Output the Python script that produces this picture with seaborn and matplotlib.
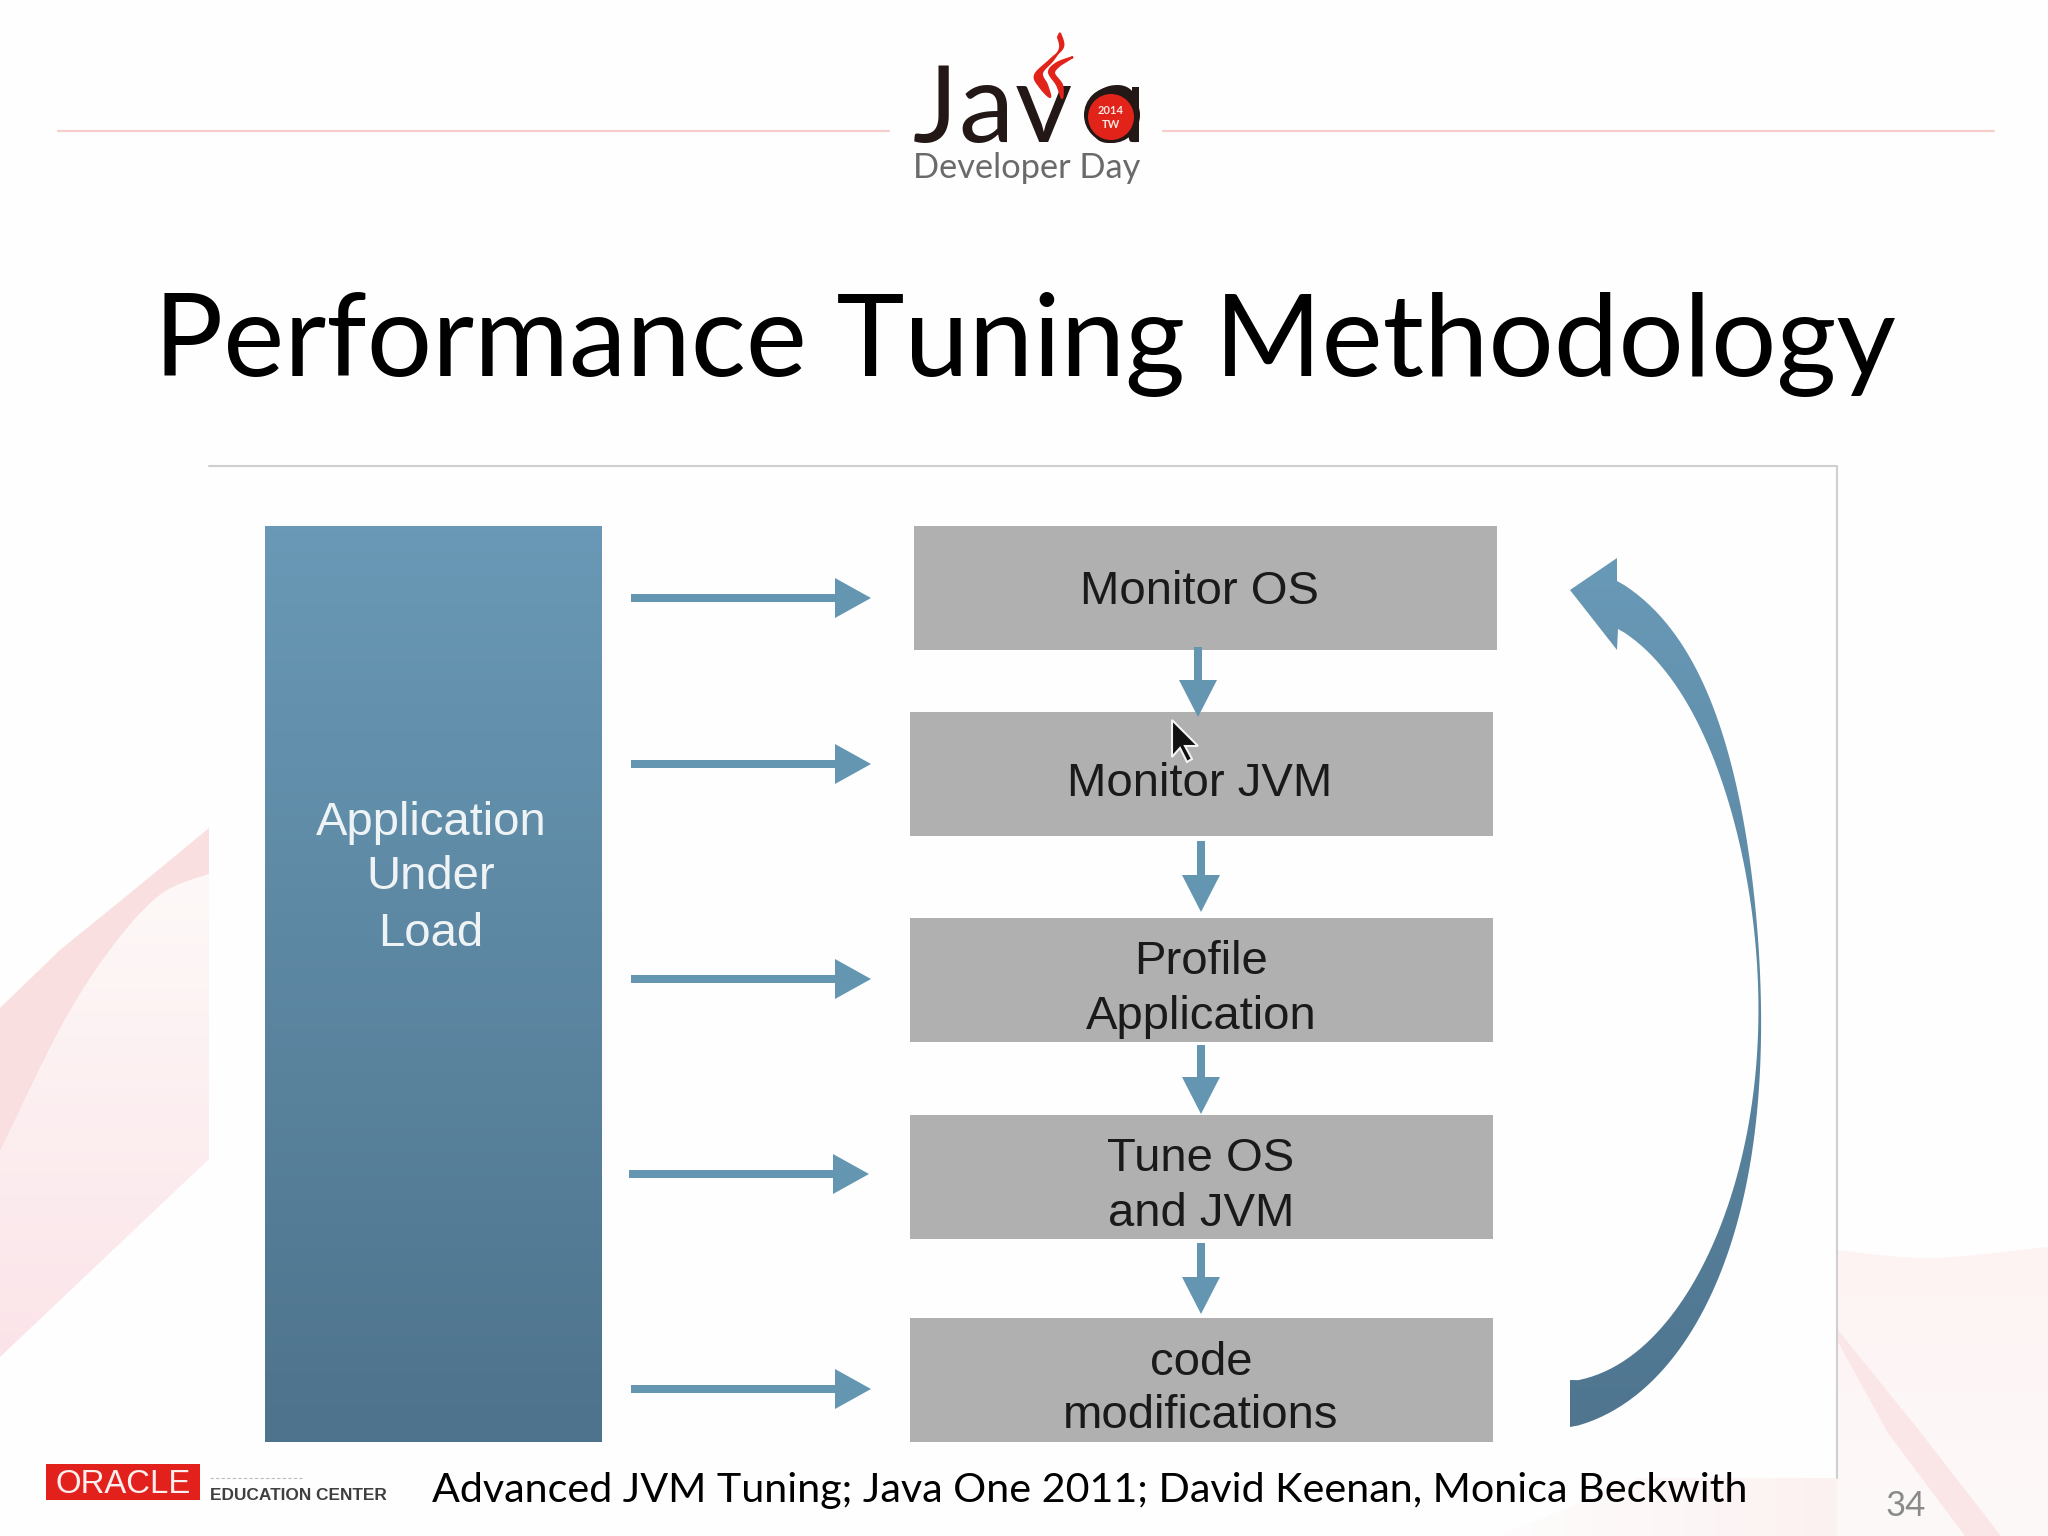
import numpy as np
import pandas as pd
import matplotlib
matplotlib.use("Agg")
import matplotlib.pyplot as plt
import seaborn as sns
from matplotlib.colors import LinearSegmentedColormap
from matplotlib.patches import Polygon, Rectangle, Circle

# slide text
TITLE = "Performance Tuning Methodology"
FOOTER = "Advanced JVM Tuning; Java One 2011; David Keenan, Monica Beckwith"
PAGE = "34"
LEFT_LABELS = ["Application", "Under", "Load"]
STEP_LABELS = [["Monitor OS"], ["Monitor JVM"], ["Profile", "Application"],
               ["Tune OS", "and JVM"], ["code", "modifications"]]

# layout, all in pixels of the 2048x1536 slide
STEP_LEFT = [914, 910, 910, 910, 910]
STEP_TOP = [526, 712, 918, 1115, 1318]
STEP_W = 583
STEP_H = 124
STEP_TEXT_Y = [[604], [796], [974, 1029], [1171, 1226], [1375, 1428]]
STEP_TEXT_X = [1199, 1200, 1201, 1201, 1201]
SIDE_ARROW_Y = [598, 764, 979, 1174, 1389]
SIDE_ARROW_X0 = [631, 631, 631, 629, 631]
DOWN_ARROW_X = [1198, 1201, 1201, 1201]
DOWN_ARROW_Y0 = [647, 841, 1045, 1243]
DOWN_ARROW_Y1 = [717, 912, 1114, 1314]

BLUE = "#6496b2"
GREY_BOX = "#b1b0b1"
PINK = "#fadfe0"
LOGO_DARK = "#231815"
LOGO_RED = "#e2231a"

BIG_OUTER = [(1617, 581), (1675, 632), (1717, 725), (1745, 818), (1760, 977),
             (1760, 1016), (1752, 1162), (1724, 1261), (1675, 1354), (1622, 1407), (1570, 1427)]
BIG_INNER = [(1618, 629), (1668, 672), (1710, 752), (1738, 844), (1759, 977),
             (1759, 1016), (1745, 1149), (1717, 1228), (1675, 1308), (1622, 1367), (1570, 1380)]
BIG_HEAD = [(1617, 558), (1570, 590), (1617, 650)]

FLAME_A = [(1060, 33), (1063, 47), (1050, 60), (1035, 75), (1040, 87), (1050, 97),
           (1047, 85), (1042, 73), (1053, 60), (1060, 48), (1058, 37)]
FLAME_B = [(1073, 57), (1057, 63), (1049, 72), (1057, 85), (1062, 98),
           (1062, 85), (1054, 73), (1060, 65)]


def smooth(points, n=12):
    p = np.array([points[0]] + list(points) + [points[-1]], dtype=float)
    out = []
    for i in range(1, len(p) - 2):
        for t in np.linspace(0, 1, n, endpoint=False):
            out.append(0.5 * (2 * p[i] + (p[i + 1] - p[i - 1]) * t
                              + (2 * p[i - 1] - 5 * p[i] + 4 * p[i + 1] - p[i + 2]) * t ** 2
                              + (3 * p[i] - p[i - 1] - 3 * p[i + 1] + p[i + 2]) * t ** 3))
    out.append(p[-2])
    return np.array(out)


def fit_curve(points, deg=5, n=120):
    # least squares curve, takes out the wobble of hand read points
    p = np.array(points, dtype=float)
    s = np.r_[0, np.cumsum(np.hypot(*np.diff(p, axis=0).T))]
    s = s / s[-1]
    t = np.linspace(0, 1, n)
    c = np.c_[np.polyval(np.polyfit(s, p[:, 0], deg), t), np.polyval(np.polyfit(s, p[:, 1], deg), t)]
    # keep the cut ends where they were read
    c[0] = p[0]
    c[-1] = p[-1]
    return c


def gradient_fill(ax, verts, c0, c1, horizontal=False, zorder=2):
    verts = np.asarray(verts, dtype=float)
    x0, y0 = verts.min(axis=0)
    x1, y1 = verts.max(axis=0)
    cmap = LinearSegmentedColormap.from_list("g", [c0, c1])
    grad = np.linspace(0, 1, 256).reshape(-1, 1)
    if horizontal:
        grad = grad.T
    im = ax.imshow(grad, cmap=cmap, extent=(x0, x1, y1, y0), origin="upper",
                   aspect="auto", zorder=zorder, interpolation="bilinear")
    clip = Polygon(verts, closed=True, transform=ax.transData, fc="none", ec="none")
    ax.add_patch(clip)
    im.set_clip_path(clip)


def fit(ax, txt, width):
    r = ax.figure.canvas.get_renderer()
    w = txt.get_window_extent(r).width
    txt.set_fontsize(txt.get_fontsize() * width / w)


sns.set_theme(style="white")
plt.rcParams["font.family"] = ["Lato", "DejaVu Sans"]

fig, ax = plt.subplots(figsize=(20.48, 15.36), dpi=100)
fig.subplots_adjust(0, 0, 1, 1)
fig.patch.set_facecolor("#fefefe")

# header rules
rules = pd.DataFrame({"x": [58, 889, 1163, 1994], "y": [131, 131, 131, 131], "seg": [0, 0, 1, 1]})
sns.lineplot(data=rules, x="x", y="y", units="seg", estimator=None, color="#f6cfcd",
             linewidth=1.6, ax=ax, zorder=1)

# background swoosh, left
left_top = [(209, 828), (140, 885), (60, 950), (0, 1008)]
left_edge = smooth([(0, 1152), (60, 1029), (110, 950), (160, 895), (209, 874)])
ax.add_patch(Polygon(list(left_top) + [tuple(v) for v in left_edge], closed=True, fc=PINK, ec="none", zorder=1))
left_light = [tuple(v) for v in left_edge[::-1]] + [(0, 1152), (0, 1357), (209, 1159)]
gradient_fill(ax, left_light, "#fef9f8", "#fbe4e9", zorder=1)

# background, right and foot
right_top = smooth([(1837, 1250), (1930, 1258), (2048, 1247)])
right_light = [tuple(v) for v in right_top] + [(2048, 1536), (1837, 1536)]
gradient_fill(ax, right_light, "#fdf3f3", "#fef9f9", zorder=1)
foot_light = [(1640, 1478), (1837, 1478), (1837, 1536), (1500, 1536)]
gradient_fill(ax, foot_light, "#fefcfc", "#fcf1f1", horizontal=True, zorder=1)
band = [(1838, 1330), (1921, 1433), (2001, 1536), (1965, 1536), (1888, 1433), (1838, 1342)]
ax.add_patch(Polygon(band, closed=True, fc="#fbe6e7", ec="none", zorder=1))

# picture panel
ax.add_patch(Rectangle((209, 466), 1628, 1012, fc="#fefefe", ec="none", zorder=1.5))
ax.plot([209, 1837, 1837], [466, 466, 1478], color="#cfcfcf", lw=1.5, zorder=1.6)

# application box
box = [(265, 526), (602, 526), (602, 1442), (265, 1442)]
gradient_fill(ax, box, "#6999b6", "#4e738c")
for label, y in zip(LEFT_LABELS, [835, 889, 946]):
    ax.text(431, y, label, family="Liberation Sans", fontsize=34, color="#eef3f6", ha="center", va="baseline", zorder=3)

# steps
for i, lines in enumerate(STEP_LABELS):
    ax.add_patch(Rectangle((STEP_LEFT[i], STEP_TOP[i]), STEP_W, STEP_H, fc=GREY_BOX, ec="none", zorder=2))
    for line, y in zip(lines, STEP_TEXT_Y[i]):
        ax.text(STEP_TEXT_X[i], y, line, family="Liberation Sans", fontsize=34, color="#1a1a1a",
                ha="center", va="baseline", zorder=3)

# side arrows
for x0, y in zip(SIDE_ARROW_X0, SIDE_ARROW_Y):
    ax.add_patch(Rectangle((x0, y - 4), 208, 8, fc=BLUE, ec="none", zorder=3))
    ax.add_patch(Polygon([(x0 + 204, y - 20), (x0 + 240, y), (x0 + 204, y + 20)], closed=True, fc=BLUE, ec="none", zorder=3))

# arrows between the steps
for x, y0, y1 in zip(DOWN_ARROW_X, DOWN_ARROW_Y0, DOWN_ARROW_Y1):
    ax.add_patch(Rectangle((x - 4, y0), 8, y1 - y0 - 30, fc=BLUE, ec="none", zorder=3))
    ax.add_patch(Polygon([(x - 19, y1 - 37), (x + 19, y1 - 37), (x, y1)], closed=True, fc=BLUE, ec="none", zorder=3))

# big return arrow
outer = fit_curve(BIG_OUTER)
inner = fit_curve(BIG_INNER)
big = BIG_HEAD + [tuple(v) for v in inner] + [tuple(v) for v in outer[::-1]]
gradient_fill(ax, big, "#6899b6", "#4f758f", zorder=3)

# mouse cursor
cursor = [(1172, 720), (1172, 757), (1180, 748), (1187, 762), (1192, 759), (1185, 746), (1198, 746)]
ax.add_patch(Polygon(cursor, closed=True, fc="#111111", ec="#f4f4f4", lw=1.5, zorder=4))

# java logo, last letter gets the round bowl of the logo on top
for ch, x, y, fs in [("J", 913, 142, 76), ("a", 958, 142, 80), ("v", 1015, 142, 80), ("a", 1088, 142, 80)]:
    ax.text(x, y, ch, fontsize=fs, color=LOGO_DARK, ha="left", va="baseline", family="Lato", zorder=3)
ax.add_patch(Circle((1112, 115), 28, fc=LOGO_DARK, ec="none", zorder=3.5))
ax.add_patch(Rectangle((1132, 87), 7, 55, fc=LOGO_DARK, ec="none", zorder=3.5))
ax.add_patch(Circle((1111, 117), 23, fc=LOGO_RED, ec="none", zorder=4))
ax.text(1111, 110, "2014", fontsize=8, fontweight="bold", color="#f8e6e0", ha="center", va="center", zorder=5)
ax.text(1111, 124, "TW", fontsize=8, fontweight="bold", color="#f8e6e0", ha="center", va="center", zorder=5)
ax.add_patch(Polygon(smooth(FLAME_A), closed=True, fc=LOGO_RED, ec=LOGO_RED, lw=1.5, zorder=4))
ax.add_patch(Polygon(smooth(FLAME_B), closed=True, fc=LOGO_RED, ec=LOGO_RED, lw=1.5, zorder=4))
dev = ax.text(913, 178, "Developer Day", fontsize=24, color="#6a6a6a", ha="left", va="baseline", zorder=3)

# title and footer
ttl = ax.text(154, 376, TITLE, fontsize=90, color="black", ha="left", va="baseline", zorder=3)
foot = ax.text(432, 1502, FOOTER, fontsize=30, color="black", ha="left", va="baseline", zorder=3)
ax.text(1906, 1516, PAGE, fontsize=25, color="#8a8a8a", ha="center", va="baseline", zorder=3)

# oracle mark
ax.add_patch(Rectangle((46, 1464), 154, 36, fc="#e3211c", ec="none", zorder=3))
ora = ax.text(123, 1493, "ORACLE", family="Liberation Sans", fontsize=20, color="#fbeeee", ha="center", va="baseline", zorder=4)
edu = ax.text(210, 1500, "EDUCATION CENTER", family="Liberation Sans", fontweight="bold", fontsize=14,
              color="#3f3f3f", ha="left", va="baseline", zorder=3)
ax.plot([210, 303], [1478, 1478], color="#bdbdbd", lw=0.8, ls=(0, (3, 2)), zorder=3)

ax.set_xlim(0, 2048)
ax.set_ylim(1536, 0)
ax.axis("off")

fig.canvas.draw()
fit(ax, ttl, 1742)
fit(ax, foot, 1313)
fit(ax, dev, 228)
fit(ax, ora, 135)
fit(ax, edu, 178)

fig.savefig("out.png", dpi=100, facecolor=fig.get_facecolor())
plt.close(fig)
